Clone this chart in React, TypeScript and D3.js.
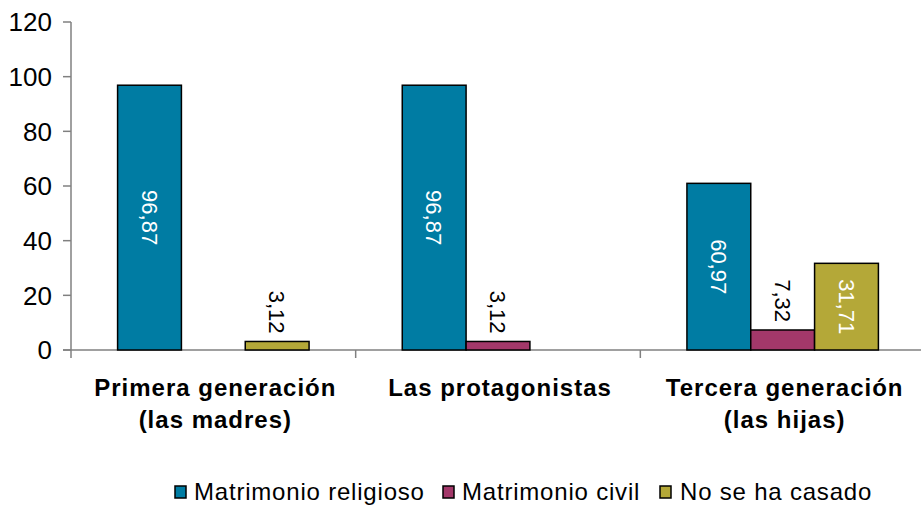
import React from "react";
import * as d3 from "d3";

const categories = [
  ["Primera generación", "(las madres)"],
  ["Las protagonistas"],
  ["Tercera generación", "(las hijas)"],
];
const seriesNames = ["Matrimonio religioso", "Matrimonio civil", "No se ha casado"];
const religioso = [96.87, 96.87, 60.97];
const civil = [0, 3.12, 7.32];
const noCasado = [3.12, 0, 31.71];
const yTicks = [0, 20, 40, 60, 80, 100, 120];
const colors = ["#007CA3", "#A3386A", "#B4A838"];

const W = 921, H = 506;
const m = { left: 71, top: 22, bottom: 350, right: 925 };

export default function App() {
  const series = [religioso, civil, noCasado];
  const y = d3.scaleLinear().domain([0, 120]).range([m.bottom, m.top]);
  const x0 = d3.scaleBand().domain(categories.map((_, i) => String(i))).range([m.left, m.right]).padding(0);
  const inner = d3.scaleBand().domain(seriesNames).range([0, x0.bandwidth()]).paddingOuter(0.73).paddingInner(0);
  const bw = inner.bandwidth();
  const font = "'Liberation Sans', Arial, sans-serif";

  const legendItems = [
    { x: 175, tx: 194 },
    { x: 443, tx: 462 },
    { x: 660, tx: 680 },
  ];

  return (
    <div style={{ position: "absolute", left: 0, top: 0 }}>
      <svg width={W} height={H} style={{ display: "block", background: "#fff" }} fontFamily={font}>
        {/* y axis */}
        <line x1={m.left} x2={m.left} y1={m.top} y2={m.bottom + 8} stroke="#808080" strokeWidth={1.5} />
        {yTicks.map((t) => (
          <g key={t}>
            <line x1={m.left - 8} x2={m.left} y1={y(t)} y2={y(t)} stroke="#808080" strokeWidth={1.5} />
            <text x={52} y={y(t)} dy="0.36em" textAnchor="end" fontSize={26} fill="#000">{t}</text>
          </g>
        ))}
        {/* x axis */}
        <line x1={m.left - 8} x2={W} y1={m.bottom} y2={m.bottom} stroke="#808080" strokeWidth={1.5} />
        {categories.map((_, i) => (
          <line key={i} x1={x0(String(i))! + x0.bandwidth()} x2={x0(String(i))! + x0.bandwidth()} y1={m.bottom} y2={m.bottom + 8} stroke="#808080" strokeWidth={1.5} />
        ))}
        {/* bars */}
        {categories.map((_, ci) => (
          <g key={ci} transform={`translate(${x0(String(ci))},0)`}>
            {series.map((s, si) => {
              const v = s[ci];
              if (!v) return null;
              const bx = inner(seriesNames[si])!;
              const top = y(v);
              const h = m.bottom - top;
              const label = v.toFixed(2).replace(".", ",");
              const inside = h > 70;
              const cx = bx + bw / 2;
              const ly = inside ? top + h / 2 : top - 8;
              return (
                <g key={si}>
                  <rect x={bx} y={top} width={bw} height={h} fill={colors[si]} stroke="#000" strokeWidth={1.5} />
                  <text
                    transform={`translate(${cx},${ly}) rotate(90)`}
                    textAnchor={inside ? "middle" : "end"}
                    dy="0.36em"
                    fontSize={22}
                    fill={inside ? "#fff" : "#000"}
                  >{label}</text>
                </g>
              );
            })}
          </g>
        ))}
        {/* category labels */}
        {categories.map((lines, ci) => (
          <text key={ci} x={x0(String(ci))! + x0.bandwidth() / 2 + 2} y={396} textAnchor="middle" fontSize={24} fontWeight="bold" letterSpacing={1}>
            {lines.map((l, li) => (
              <tspan key={li} x={x0(String(ci))! + x0.bandwidth() / 2 + 2} dy={li === 0 ? 0 : 32}>{l}</tspan>
            ))}
          </text>
        ))}
        {/* legend */}
        {seriesNames.map((n, i) => (
          <g key={n}>
            <rect x={legendItems[i].x} y={486} width={11} height={12} fill={colors[i]} stroke="#000" strokeWidth={1.5} />
            <text x={legendItems[i].tx} y={500} fontSize={24} letterSpacing={0.8}>{n}</text>
          </g>
        ))}
      </svg>
    </div>
  );
}
